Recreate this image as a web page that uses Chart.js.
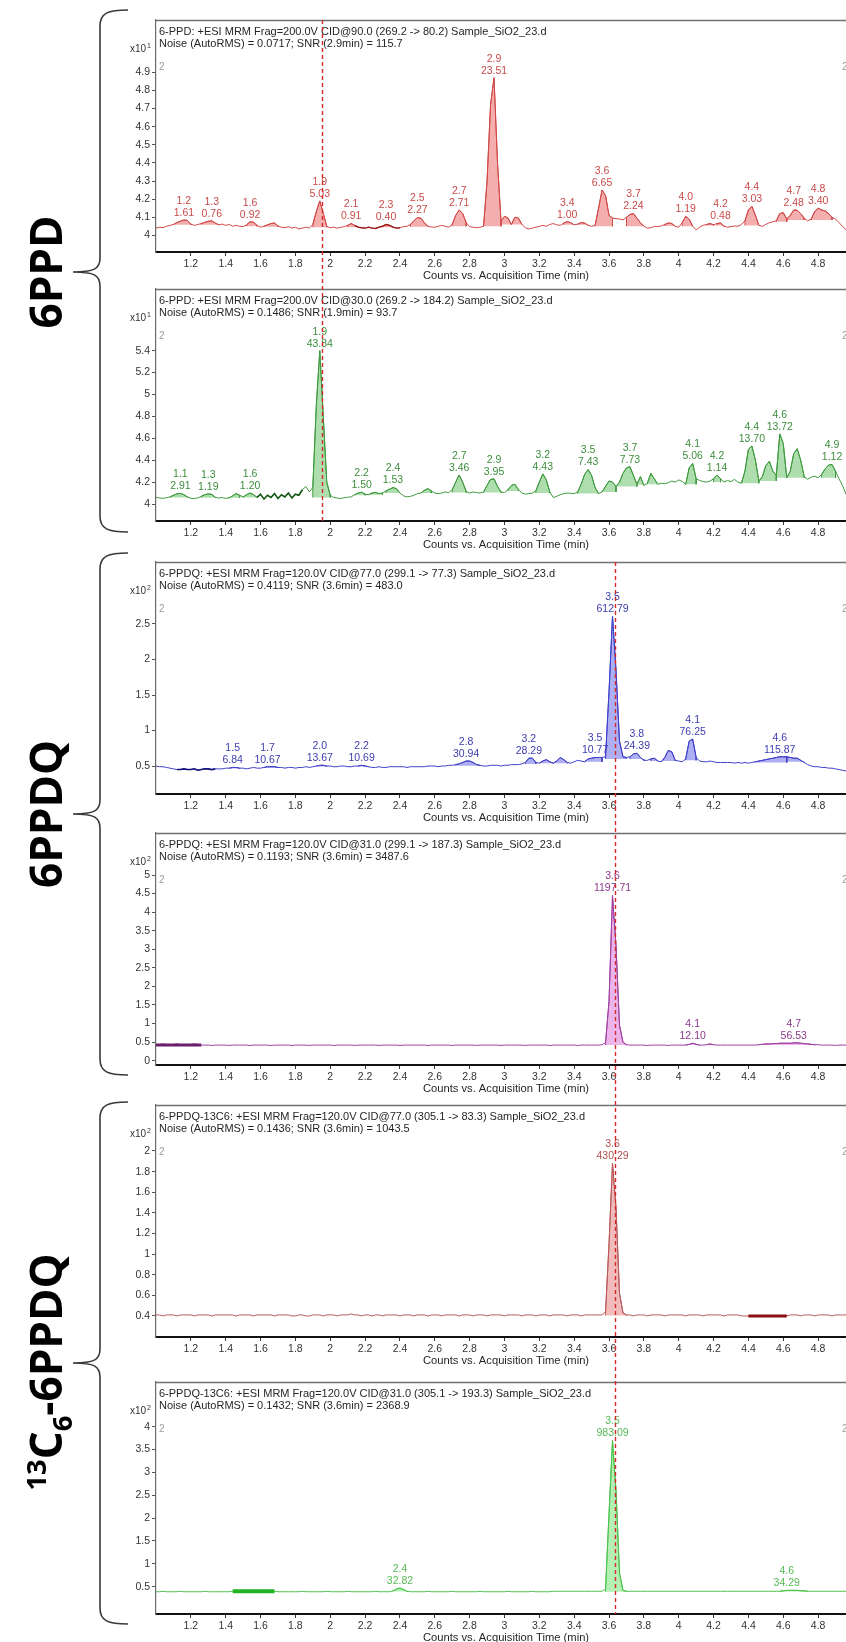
<!DOCTYPE html>
<html><head><meta charset="utf-8">
<script src="https://cdn.jsdelivr.net/npm/chart.js@4.4.0/dist/chart.umd.min.js"></script>
<style>
html,body{margin:0;padding:0;background:#fff}
#page{position:relative;width:846px;height:1642px;overflow:hidden;background:#fff}
#page canvas{position:absolute;left:0}
#deco{position:absolute;left:0;top:0;z-index:5}
.big{position:absolute;z-index:6;font-family:"Open Sans",sans-serif;font-weight:700;color:#000;white-space:nowrap;transform:translate(-50%,-50%) rotate(-90deg);line-height:1}
.big sup,.big sub{font-size:62%;line-height:0}
</style></head><body>
<div id="page">
<svg id="deco" width="846" height="1642"></svg>
<div class="big" id="lab1" style="left:45px;top:272px;font-size:44px">6PPD</div>
<div class="big" id="lab2" style="left:45px;top:814px;font-size:44px">6PPDQ</div>
<div class="big" id="lab3" style="left:45px;top:1372px;font-size:44px"><sup>13</sup>C<sub>6</sub>-6PPDQ</div>
</div>
<script>
// ---------- shared acquisition time grid (min) ----------
const timeGrid = [
1.00,1.02,1.04,1.06,1.08,1.10,1.12,1.14,1.16,1.18,
1.20,1.22,1.24,1.26,1.28,1.30,1.32,1.34,1.36,1.38,
1.40,1.42,1.44,1.46,1.48,1.50,1.52,1.54,1.56,1.58,
1.60,1.62,1.64,1.66,1.68,1.70,1.72,1.74,1.76,1.78,
1.80,1.82,1.84,1.86,1.88,1.90,1.92,1.94,1.96,1.98,
2.00,2.02,2.04,2.06,2.08,2.10,2.12,2.14,2.16,2.18,
2.20,2.22,2.24,2.26,2.28,2.30,2.32,2.34,2.36,2.38,
2.40,2.42,2.44,2.46,2.48,2.50,2.52,2.54,2.56,2.58,
2.60,2.62,2.64,2.66,2.68,2.70,2.72,2.74,2.76,2.78,
2.80,2.82,2.84,2.86,2.88,2.90,2.92,2.94,2.96,2.98,
3.00,3.02,3.04,3.06,3.08,3.10,3.12,3.14,3.16,3.18,
3.20,3.22,3.24,3.26,3.28,3.30,3.32,3.34,3.36,3.38,
3.40,3.42,3.44,3.46,3.48,3.50,3.52,3.54,3.56,3.58,
3.60,3.62,3.64,3.66,3.68,3.70,3.72,3.74,3.76,3.78,
3.80,3.82,3.84,3.86,3.88,3.90,3.92,3.94,3.96,3.98,
4.00,4.02,4.04,4.06,4.08,4.10,4.12,4.14,4.16,4.18,
4.20,4.22,4.24,4.26,4.28,4.30,4.32,4.34,4.36,4.38,
4.40,4.42,4.44,4.46,4.48,4.50,4.52,4.54,4.56,4.58,
4.60,4.62,4.64,4.66,4.68,4.70,4.72,4.74,4.76,4.78,
4.80,4.82,4.84,4.86,4.88,4.90,4.92,4.94,4.96];

const xTickValues = [1.2,1.4,1.6,1.8,2,2.2,2.4,2.6,2.8,3,3.2,3.4,3.6,3.8,4,4.2,4.4,4.6,4.8];
const xRange = [1.0, 4.96];

// ---------- panel 1: 6-PPD 269.2 -> 80.2 (x10^1 counts) ----------
const p1Values = [
4.040,4.045,4.042,4.050,4.055,4.060,4.070,4.078,4.085,4.082,
4.062,4.055,4.060,4.065,4.072,4.078,4.080,4.068,4.058,4.062,
4.055,4.060,4.050,4.055,4.050,4.048,4.058,4.075,4.072,4.055,
4.045,4.050,4.058,4.065,4.068,4.052,4.045,4.042,4.048,4.040,
4.045,4.035,4.040,4.045,4.040,4.060,4.130,4.190,4.120,4.050,
4.042,4.045,4.040,4.044,4.048,4.055,4.065,4.055,4.045,4.042,
4.040,4.045,4.040,4.038,4.045,4.050,4.060,4.055,4.045,4.040,
4.042,4.048,4.050,4.060,4.080,4.098,4.095,4.070,4.050,4.046,
4.045,4.050,4.055,4.050,4.045,4.060,4.110,4.140,4.120,4.070,
4.048,4.045,4.042,4.045,4.050,4.300,4.720,4.870,4.400,4.080,
4.105,4.095,4.060,4.100,4.095,4.060,4.042,4.035,4.040,4.045,
4.050,4.055,4.050,4.060,4.065,4.058,4.055,4.068,4.075,4.070,
4.058,4.062,4.070,4.068,4.055,4.050,4.055,4.150,4.250,4.220,
4.110,4.095,4.092,4.090,4.085,4.100,4.115,4.120,4.095,4.070,
4.050,4.040,4.042,4.050,4.048,4.052,4.060,4.068,4.065,4.050,
4.045,4.070,4.105,4.090,4.050,4.030,4.045,4.055,4.060,4.065,
4.058,4.065,4.068,4.050,4.045,4.048,4.052,4.050,4.060,4.080,
4.140,4.160,4.110,4.055,4.050,4.060,4.070,4.075,4.080,4.120,
4.125,4.090,4.110,4.140,4.138,4.120,4.095,4.080,4.090,4.130,
4.150,4.140,4.135,4.120,4.100,4.090,4.070,4.050,4.030];
// [start, end, baseline, RT label, area label]
const p1Peaks = [
[1.10,1.20,4.058,'1.2','1.61'],[1.26,1.36,4.058,'1.3','0.76'],[1.52,1.58,4.050,'1.6','0.92'],
[1.62,1.70,4.048,'',''],[1.90,1.98,4.045,'1.9','5.03'],[2.10,2.16,4.045,'2.1','0.91'],
[2.30,2.36,4.045,'2.3','0.40'],[2.46,2.56,4.048,'2.5','2.27'],[2.70,2.78,4.050,'2.7','2.71'],
[2.88,2.98,4.050,'2.9','23.51'],[2.98,3.04,4.060,'',''],[3.04,3.10,4.060,'',''],
[3.34,3.40,4.058,'3.4','1.00'],[3.42,3.48,4.058,'',''],[3.52,3.62,4.050,'3.6','6.65'],
[3.70,3.80,4.050,'3.7','2.24'],[3.92,3.98,4.052,'',''],[4.02,4.08,4.050,'4.0','1.19'],
[4.16,4.20,4.055,'',''],[4.22,4.26,4.055,'4.2','0.48'],[4.38,4.46,4.055,'4.4','3.03'],
[4.56,4.62,4.075,'',''],[4.62,4.72,4.085,'4.7','2.48'],[4.76,4.88,4.085,'4.8','3.40']];
const p1YTicks = [4,4.1,4.2,4.3,4.4,4.5,4.6,4.7,4.8,4.9];
const p1YRange = [3.908,5.189];

// ---------- panel 2: 6-PPD 269.2 -> 184.2 (x10^1 counts) ----------
const p2Values = [
4.061,4.055,4.052,4.058,4.065,4.080,4.092,4.097,4.085,4.065,
4.052,4.050,4.055,4.070,4.085,4.092,4.088,4.062,4.055,4.058,
4.052,4.055,4.075,4.095,4.080,4.065,4.085,4.100,4.085,4.060,
4.090,4.045,4.080,4.060,4.095,4.050,4.085,4.065,4.100,4.055,
4.090,4.080,4.130,4.160,4.110,4.150,4.900,5.400,4.800,4.200,
4.080,4.060,4.055,4.050,4.058,4.062,4.065,4.085,4.100,4.108,
4.090,4.085,4.100,4.105,4.095,4.100,4.120,4.135,4.150,4.140,
4.100,4.075,4.065,4.070,4.080,4.095,4.100,4.125,4.140,4.120,
4.100,4.095,4.100,4.110,4.105,4.130,4.200,4.265,4.200,4.115,
4.100,4.110,4.105,4.100,4.110,4.170,4.225,4.230,4.160,4.110,
4.105,4.130,4.170,4.180,4.130,4.100,4.090,4.095,4.100,4.120,
4.200,4.275,4.220,4.110,4.060,4.070,4.085,4.095,4.100,4.098,
4.095,4.110,4.180,4.270,4.315,4.260,4.150,4.095,4.110,4.160,
4.210,4.200,4.160,4.200,4.280,4.330,4.340,4.260,4.180,4.250,
4.170,4.190,4.280,4.230,4.180,4.190,4.185,4.195,4.210,4.200,
4.220,4.205,4.180,4.330,4.370,4.230,4.215,4.205,4.200,4.210,
4.230,4.265,4.230,4.200,4.215,4.205,4.225,4.200,4.190,4.300,
4.500,4.530,4.400,4.210,4.250,4.350,4.390,4.300,4.260,4.640,
4.550,4.240,4.300,4.460,4.505,4.400,4.250,4.225,4.245,4.255,
4.240,4.270,4.320,4.355,4.360,4.300,4.230,4.170,4.090];
const p2Peaks = [
[1.08,1.18,4.060,'1.1','2.91'],[1.26,1.34,4.058,'1.3','1.19'],[1.42,1.48,4.058,'',''],
[1.50,1.58,4.060,'1.6','1.20'],[1.90,2.00,4.060,'1.9','43.84'],[2.14,2.20,4.080,'2.2','1.50'],
[2.22,2.30,4.085,'',''],[2.32,2.40,4.100,'2.4','1.53'],[2.52,2.58,4.100,'',''],
[2.70,2.78,4.105,'2.7','3.46'],[2.88,2.98,4.105,'2.9','3.95'],[3.02,3.08,4.120,'',''],
[3.18,3.26,4.100,'3.2','4.43'],[3.42,3.54,4.095,'3.5','7.43'],[3.56,3.64,4.110,'',''],
[3.64,3.76,4.160,'3.7','7.73'],[3.76,3.80,4.175,'',''],[3.82,3.88,4.180,'',''],
[4.04,4.10,4.180,'4.1','5.06'],[4.20,4.24,4.200,'4.2','1.14'],[4.36,4.46,4.190,'4.4','13.70'],
[4.46,4.56,4.210,'',''],[4.56,4.62,4.240,'4.6','13.72'],[4.62,4.72,4.240,'',''],
[4.82,4.90,4.240,'4.9','1.12']];
const p2YTicks = [4,4.2,4.4,4.6,4.8,5,5.2,5.4];
const p2YRange = [3.845,5.963];

// ---------- panel 3: 6-PPDQ 299.1 -> 77.3 (x10^2 counts) ----------
const p3Values = [
0.50,0.49,0.49,0.48,0.47,0.46,0.45,0.45,0.46,0.45,
0.45,0.46,0.44,0.45,0.46,0.46,0.45,0.46,0.46,0.46,
0.47,0.47,0.48,0.48,0.47,0.47,0.46,0.47,0.48,0.47,
0.47,0.48,0.49,0.49,0.49,0.48,0.48,0.47,0.48,0.48,
0.47,0.48,0.48,0.49,0.48,0.49,0.50,0.51,0.51,0.50,
0.50,0.49,0.49,0.50,0.50,0.49,0.49,0.50,0.50,0.51,
0.50,0.49,0.48,0.48,0.49,0.48,0.48,0.49,0.49,0.49,
0.49,0.49,0.48,0.49,0.49,0.49,0.49,0.49,0.50,0.50,
0.50,0.49,0.50,0.50,0.51,0.51,0.52,0.53,0.55,0.57,
0.57,0.55,0.52,0.51,0.50,0.50,0.51,0.51,0.51,0.50,
0.51,0.51,0.52,0.52,0.52,0.53,0.55,0.61,0.61,0.55,
0.54,0.57,0.59,0.56,0.54,0.57,0.62,0.59,0.55,0.54,
0.56,0.58,0.57,0.56,0.60,0.61,0.62,0.62,0.62,0.63,
1.55,2.61,1.85,0.85,0.63,0.62,0.63,0.67,0.68,0.62,
0.58,0.58,0.60,0.61,0.57,0.56,0.62,0.72,0.70,0.58,
0.57,0.56,0.60,0.85,0.88,0.62,0.57,0.56,0.56,0.57,
0.56,0.55,0.55,0.55,0.55,0.55,0.54,0.55,0.54,0.55,
0.54,0.55,0.56,0.57,0.58,0.59,0.60,0.61,0.62,0.63,
0.63,0.63,0.62,0.61,0.61,0.58,0.55,0.52,0.50,0.49,
0.49,0.48,0.48,0.47,0.47,0.46,0.45,0.44,0.43];
const p3Peaks = [
[1.42,1.48,0.465,'1.5','6.84'],[1.62,1.70,0.475,'1.7','10.67'],[1.92,1.98,0.495,'2.0','13.67'],
[2.16,2.22,0.495,'2.2','10.69'],[2.72,2.86,0.505,'2.8','30.94'],[3.12,3.18,0.53,'3.2','28.29'],
[3.20,3.28,0.54,'',''],[3.28,3.36,0.54,'',''],[3.46,3.56,0.56,'3.5','10.77'],
[3.58,3.70,0.60,'3.5','612.79'],[3.72,3.80,0.60,'3.8','24.39'],[3.84,3.88,0.57,'',''],
[3.90,3.98,0.57,'',''],[4.04,4.10,0.58,'4.1','76.25'],[4.44,4.62,0.55,'4.6','115.87'],
[4.62,4.72,0.56,'','']];
const p3YTicks = [0.5,1,1.5,2,2.5];
const p3YRange = [0.106,3.373];

// ---------- panel 4: 6-PPDQ 299.1 -> 187.3 (x10^2 counts) ----------
const p4Values = [
0.42,0.42,0.43,0.42,0.42,0.42,0.43,0.42,0.42,0.42,
0.42,0.43,0.42,0.42,0.42,0.42,0.41,0.42,0.42,0.42,
0.42,0.41,0.42,0.42,0.42,0.42,0.42,0.41,0.42,0.42,
0.42,0.42,0.42,0.41,0.42,0.42,0.42,0.42,0.42,0.41,
0.42,0.42,0.42,0.42,0.41,0.42,0.42,0.42,0.42,0.42,
0.42,0.41,0.42,0.42,0.42,0.42,0.42,0.41,0.42,0.42,
0.42,0.42,0.42,0.42,0.41,0.42,0.42,0.42,0.42,0.42,
0.41,0.42,0.42,0.42,0.42,0.42,0.42,0.42,0.41,0.42,
0.42,0.42,0.42,0.42,0.42,0.41,0.42,0.42,0.42,0.42,
0.42,0.42,0.41,0.42,0.42,0.42,0.42,0.42,0.42,0.41,
0.42,0.42,0.42,0.42,0.42,0.42,0.41,0.42,0.42,0.42,
0.42,0.42,0.42,0.41,0.42,0.42,0.42,0.42,0.42,0.42,
0.42,0.41,0.42,0.42,0.42,0.42,0.42,0.42,0.43,0.48,
1.60,4.45,3.10,0.95,0.50,0.43,0.42,0.42,0.42,0.42,
0.42,0.41,0.42,0.42,0.42,0.42,0.42,0.41,0.42,0.42,
0.42,0.42,0.42,0.44,0.47,0.44,0.42,0.42,0.43,0.45,
0.43,0.42,0.42,0.42,0.42,0.42,0.42,0.42,0.42,0.42,
0.42,0.42,0.42,0.43,0.44,0.45,0.45,0.46,0.46,0.47,
0.47,0.47,0.47,0.48,0.48,0.47,0.46,0.45,0.44,0.43,
0.43,0.42,0.42,0.42,0.42,0.41,0.42,0.42,0.42];
const p4Peaks = [
[3.58,3.70,0.42,'3.6','1197.71'],[4.04,4.12,0.42,'4.1','12.10'],[4.16,4.20,0.42,'',''],
[4.46,4.78,0.42,'4.7','56.53']];
const p4YTicks = [0,0.5,1,1.5,2,2.5,3,3.5,4,4.5,5];
const p4YRange = [-0.116,6.131];

// ---------- panel 5: 6-PPDQ-13C6 305.1 -> 83.3 (x10^2 counts) ----------
const p5Values = [
0.41,0.41,0.40,0.41,0.41,0.41,0.40,0.41,0.41,0.41,
0.41,0.40,0.41,0.41,0.41,0.41,0.40,0.41,0.41,0.41,
0.41,0.41,0.41,0.40,0.41,0.41,0.41,0.41,0.40,0.41,
0.41,0.41,0.41,0.41,0.40,0.41,0.41,0.41,0.41,0.40,
0.40,0.41,0.41,0.40,0.40,0.41,0.41,0.41,0.40,0.41,
0.41,0.41,0.40,0.41,0.41,0.41,0.42,0.41,0.41,0.40,
0.41,0.41,0.40,0.41,0.41,0.40,0.41,0.41,0.41,0.41,
0.40,0.41,0.41,0.41,0.40,0.41,0.41,0.41,0.40,0.41,
0.41,0.41,0.40,0.41,0.41,0.41,0.41,0.40,0.41,0.41,
0.41,0.40,0.41,0.41,0.41,0.40,0.41,0.41,0.41,0.41,
0.40,0.41,0.41,0.41,0.41,0.40,0.41,0.41,0.41,0.40,
0.41,0.41,0.41,0.40,0.41,0.41,0.41,0.41,0.40,0.41,
0.41,0.41,0.40,0.41,0.41,0.41,0.41,0.41,0.41,0.44,
1.10,1.88,1.45,0.62,0.43,0.41,0.41,0.40,0.41,0.41,
0.41,0.40,0.41,0.41,0.41,0.41,0.40,0.41,0.41,0.41,
0.41,0.41,0.40,0.41,0.41,0.41,0.41,0.40,0.41,0.41,
0.41,0.41,0.41,0.40,0.41,0.41,0.41,0.41,0.40,0.40,
0.40,0.40,0.40,0.40,0.40,0.40,0.40,0.40,0.40,0.40,
0.40,0.40,0.41,0.41,0.41,0.40,0.41,0.41,0.41,0.40,
0.41,0.41,0.41,0.41,0.40,0.41,0.41,0.41,0.41];
const p5Peaks = [[3.58,3.70,0.405,'3.6','430.29']];
const p5YTicks = [0.4,0.6,0.8,1,1.2,1.4,1.6,1.8,2];
const p5YRange = [0.196,2.446];

// ---------- panel 6: 6-PPDQ-13C6 305.1 -> 193.3 (x10^2 counts) ----------
const p6Values = [
0.39,0.39,0.40,0.39,0.39,0.39,0.39,0.40,0.39,0.39,
0.39,0.39,0.39,0.39,0.40,0.39,0.39,0.39,0.39,0.39,
0.39,0.39,0.40,0.40,0.40,0.40,0.40,0.40,0.40,0.40,
0.40,0.40,0.40,0.40,0.40,0.39,0.39,0.39,0.39,0.39,
0.39,0.39,0.40,0.39,0.39,0.39,0.39,0.39,0.39,0.40,
0.39,0.39,0.39,0.39,0.39,0.40,0.39,0.39,0.39,0.39,
0.39,0.39,0.39,0.40,0.39,0.39,0.39,0.39,0.41,0.45,
0.47,0.44,0.40,0.39,0.39,0.39,0.39,0.39,0.40,0.39,
0.39,0.39,0.39,0.39,0.39,0.40,0.39,0.39,0.39,0.39,
0.39,0.39,0.39,0.40,0.39,0.39,0.39,0.39,0.39,0.39,
0.39,0.40,0.39,0.39,0.39,0.39,0.39,0.39,0.40,0.39,
0.39,0.39,0.39,0.39,0.40,0.40,0.40,0.40,0.40,0.40,
0.40,0.40,0.40,0.40,0.40,0.40,0.40,0.40,0.40,0.45,
2.10,3.70,2.60,0.80,0.42,0.40,0.40,0.40,0.40,0.40,
0.40,0.40,0.40,0.40,0.40,0.40,0.40,0.40,0.40,0.40,
0.40,0.40,0.40,0.40,0.40,0.40,0.40,0.40,0.40,0.40,
0.40,0.40,0.40,0.40,0.40,0.40,0.40,0.40,0.40,0.40,
0.40,0.40,0.40,0.40,0.40,0.40,0.40,0.40,0.40,0.40,
0.41,0.42,0.42,0.42,0.42,0.41,0.41,0.40,0.40,0.40,
0.40,0.40,0.40,0.40,0.40,0.40,0.40,0.40,0.40];
const p6Peaks = [[2.36,2.44,0.395,'2.4','32.82'],[3.58,3.70,0.39,'3.5','983.09'],[4.58,4.74,0.395,'4.6','34.29']];
const p6YTicks = [0.5,1,1.5,2,2.5,3,3.5,4];
const p6YRange = [-0.097,4.978];

// retention-time markers (dashed lines)
const markerTimes = [1.952, 3.636];

// ---------- layout (page pixels) ----------
const FONT = '"Liberation Sans", Arial, sans-serif';
const PLOT_H = 232, PLOT_LEFT = 156;
const panels = [
 {top:0,   off:20, values:p1Values, peaks:p1Peaks, yt:p1YTicks, yr:p1YRange, exp:'1',
  h1:'6-PPD: +ESI MRM Frag=200.0V CID@90.0 (269.2 -> 80.2) Sample_SiO2_23.d',
  h2:'Noise (AutoRMS) = 0.0717; SNR (2.9min) = 115.7',
  line:'#d04848', fill:'rgba(238,120,120,0.6)', text:'#c84a4a', thick:[[2.14,2.40,'#9a1c1c',1.4]], group:0},
 {top:270, off:19, values:p2Values, peaks:p2Peaks, yt:p2YTicks, yr:p2YRange, exp:'1',
  h1:'6-PPD: +ESI MRM Frag=200.0V CID@30.0 (269.2 -> 184.2) Sample_SiO2_23.d',
  h2:'Noise (AutoRMS) = 0.1486; SNR (1.9min) = 93.7',
  line:'#3f9a3f', fill:'rgba(120,200,120,0.6)', text:'#3d8d3d', thick:[[1.58,1.84,'#185a18',1.6]], group:0},
 {top:543, off:19, values:p3Values, peaks:p3Peaks, yt:p3YTicks, yr:p3YRange, exp:'2',
  h1:'6-PPDQ: +ESI MRM Frag=120.0V CID@77.0 (299.1 -> 77.3) Sample_SiO2_23.d',
  h2:'Noise (AutoRMS) = 0.4119; SNR (3.6min) = 483.0',
  line:'#4040c8', fill:'rgba(130,130,235,0.65)', text:'#3c3cae', thick:[[1.12,1.34,'#16167a',1.6]], group:1},
 {top:814, off:19, values:p4Values, peaks:p4Peaks, yt:p4YTicks, yr:p4YRange, exp:'2',
  h1:'6-PPDQ: +ESI MRM Frag=120.0V CID@31.0 (299.1 -> 187.3) Sample_SiO2_23.d',
  h2:'Noise (AutoRMS) = 0.1193; SNR (3.6min) = 3487.6',
  line:'#a040a0', fill:'rgba(225,140,225,0.65)', text:'#8a3a8a', thick:[[1.00,1.26,'#6a1f6a',3]], group:1},
 {top:1086, off:19, values:p5Values, peaks:p5Peaks, yt:p5YTicks, yr:p5YRange, exp:'2',
  h1:'6-PPDQ-13C6: +ESI MRM Frag=120.0V CID@77.0 (305.1 -> 83.3) Sample_SiO2_23.d',
  h2:'Noise (AutoRMS) = 0.1436; SNR (3.6min) = 1043.5',
  line:'#b85a5a', fill:'rgba(235,150,150,0.65)', text:'#b05050', thick:[[4.40,4.62,'#8a0f0f',3]], group:1},
 {top:1363, off:19, values:p6Values, peaks:p6Peaks, yt:p6YTicks, yr:p6YRange, exp:'2',
  h1:'6-PPDQ-13C6: +ESI MRM Frag=120.0V CID@31.0 (305.1 -> 193.3) Sample_SiO2_23.d',
  h2:'Noise (AutoRMS) = 0.1432; SNR (3.6min) = 2368.9',
  line:'#4cc24c', fill:'rgba(140,230,140,0.65)', text:'#55b855', thick:[[1.44,1.68,'#22b322',4]], group:1}
];
const groupSpan = [[panels[0].top+panels[0].off, panels[1].top+panels[1].off+PLOT_H],
                   [panels[2].top+panels[2].off, panels[5].top+panels[5].off+PLOT_H]];

function fmt(v){ return String(Number(v.toFixed(3))); }
function inWin(t,p){ return t >= p[0]-1e-6 && t <= p[1]+1e-6; }

const overlay = {
  id:'overlay',
  afterDraw(chart, args, o){
    const c = o.cfg, ctx = chart.ctx, a = chart.chartArea;
    const xs = chart.scales.x, ys = chart.scales.y;
    ctx.save();
    ctx.strokeStyle = '#707070'; ctx.lineWidth = 1.5;
    ctx.beginPath(); ctx.moveTo(a.left, a.top+0.5); ctx.lineTo(a.right, a.top+0.5); ctx.stroke();
    ctx.fillStyle = '#262626'; ctx.font = '11px ' + FONT;
    ctx.textAlign = 'left'; ctx.textBaseline = 'middle';
    ctx.fillText(c.h1, a.left + 3, a.top + 12);
    ctx.fillText(c.h2, a.left + 3, a.top + 24);
    ctx.fillStyle = '#333'; ctx.font = '10px ' + FONT; ctx.textAlign = 'right';
    ctx.fillText('x10', a.left - 10, a.top + 29);
    ctx.font = '7px ' + FONT; ctx.textAlign = 'left';
    ctx.fillText(c.exp, a.left - 9, a.top + 26);
    ctx.fillStyle = '#9c9c9c'; ctx.font = '10px ' + FONT;
    ctx.fillText('2', a.left + 3, a.top + 47);
    ctx.fillText('2', 842, a.top + 47);
    ctx.fillStyle = c.text; ctx.font = '10.5px ' + FONT; ctx.textAlign = 'center';
    c.peaks.forEach(p => {
      if (!p[3]) return;
      let best = null;
      timeGrid.forEach((t,i) => { if (inWin(t,p) && (!best || c.values[i] > best.v)) best = {t:t, v:c.values[i]}; });
      const px = xs.getPixelForValue(best.t), py = ys.getPixelForValue(best.v);
      ctx.fillText(p[4], px, py - 7);
      ctx.fillText(p[3], px, py - 19);
    });
    ctx.fillStyle = '#262626'; ctx.font = '11.2px ' + FONT; ctx.textAlign = 'center';
    ctx.fillText('Counts vs. Acquisition Time (min)', a.left + 350, a.bottom + 24);
    const span = groupSpan[c.group];
    const y0 = Math.max(span[0], c.top), y1 = Math.min(span[1], c.bandEnd);
    if (y1 > y0) {
      const px = Math.round(xs.getPixelForValue(markerTimes[c.group])) + 0.5;
      ctx.strokeStyle = '#d42a2a'; ctx.lineWidth = 1.4; ctx.setLineDash([4,3]);
      ctx.lineDashOffset = (y0 - span[0]) % 7;
      ctx.beginPath(); ctx.moveTo(px, y0 - c.top); ctx.lineTo(px, y1 - c.top); ctx.stroke();
    }
    ctx.restore();
  }
};

const page = document.getElementById('page');
panels.forEach((c, idx) => {
  c.bandEnd = idx < panels.length-1 ? panels[idx+1].top : 1642;
  const H = c.off + PLOT_H + 40;
  const cv = document.createElement('canvas');
  cv.width = 846; cv.height = H;
  cv.style.width = '846px'; cv.style.height = H + 'px'; cv.style.top = c.top + 'px';
  page.insertBefore(cv, document.getElementById('deco'));
  const pts = timeGrid.map((t,i) => ({x:t, y:c.values[i]}));
  const ds = [{data:pts, borderColor:c.line, borderWidth:1, pointRadius:0, fill:false, tension:0, order:0}];
  c.peaks.forEach(p => {
    const seg = pts.filter(q => inWin(q.x,p));
    ds.push({data:[{x:p[0],y:p[2]}].concat(seg,[{x:p[1],y:p[2]}]), fill:{value:p[2]},
      backgroundColor:c.fill, borderColor:c.line, borderWidth:1, pointRadius:0, tension:0, order:1});
  });
  c.thick.forEach(w => {
    ds.push({data:pts.filter(q => inWin(q.x,w)), borderColor:w[2], borderWidth:w[3], pointRadius:0,
      fill:false, tension:0, order:-1});
  });
  new Chart(cv, {
    type:'line',
    data:{datasets:ds},
    plugins:[overlay],
    options:{
      responsive:false, animation:false, events:[],
      layout:{padding:{top:c.off, left:0, right:0, bottom:0}},
      plugins:{legend:{display:false}, tooltip:{enabled:false}, overlay:{cfg:c}},
      scales:{
        x:{type:'linear', min:xRange[0], max:xRange[1],
          afterBuildTicks:s => { s.ticks = xTickValues.map(v => ({value:v})); },
          afterFit:s => { s.height = 40; },
          ticks:{autoSkip:false, maxRotation:0, padding:2, color:'#333', font:{family:FONT, size:10.5}, callback:v => fmt(v)},
          grid:{drawOnChartArea:false, drawTicks:true, tickLength:4, color:'#333'},
          border:{display:true, color:'#111', width:2}},
        y:{type:'linear', min:c.yr[0], max:c.yr[1],
          afterBuildTicks:s => { s.ticks = c.yt.map(v => ({value:v})); },
          afterFit:s => { s.width = PLOT_LEFT; },
          ticks:{autoSkip:false, padding:2, color:'#333', font:{family:FONT, size:10.5}, callback:v => fmt(v)},
          grid:{drawOnChartArea:false, drawTicks:true, tickLength:4, color:'#555'},
          border:{display:true, color:'#6a6a6a', width:1.2}}
      }
    }
  });
});

const braces = [[10,272,532],[553,814,1075],[1102,1363,1624]];
const svg = document.getElementById('deco');
braces.forEach(b => {
  const [yt, ym, yb] = b;
  const d = `M128 ${yt} C108 ${yt} 100 ${yt+3} 100 ${yt+16} L100 ${ym-14} C100 ${ym-3} 94 ${ym} 73 ${ym} ` +
            `C94 ${ym} 100 ${ym+3} 100 ${ym+14} L100 ${yb-16} C100 ${yb-3} 108 ${yb} 128 ${yb}`;
  const path = document.createElementNS('http://www.w3.org/2000/svg','path');
  path.setAttribute('d', d); path.setAttribute('fill','none');
  path.setAttribute('stroke','#3a3a3a'); path.setAttribute('stroke-width','1.6');
  svg.appendChild(path);
});
</script>
</body></html>
